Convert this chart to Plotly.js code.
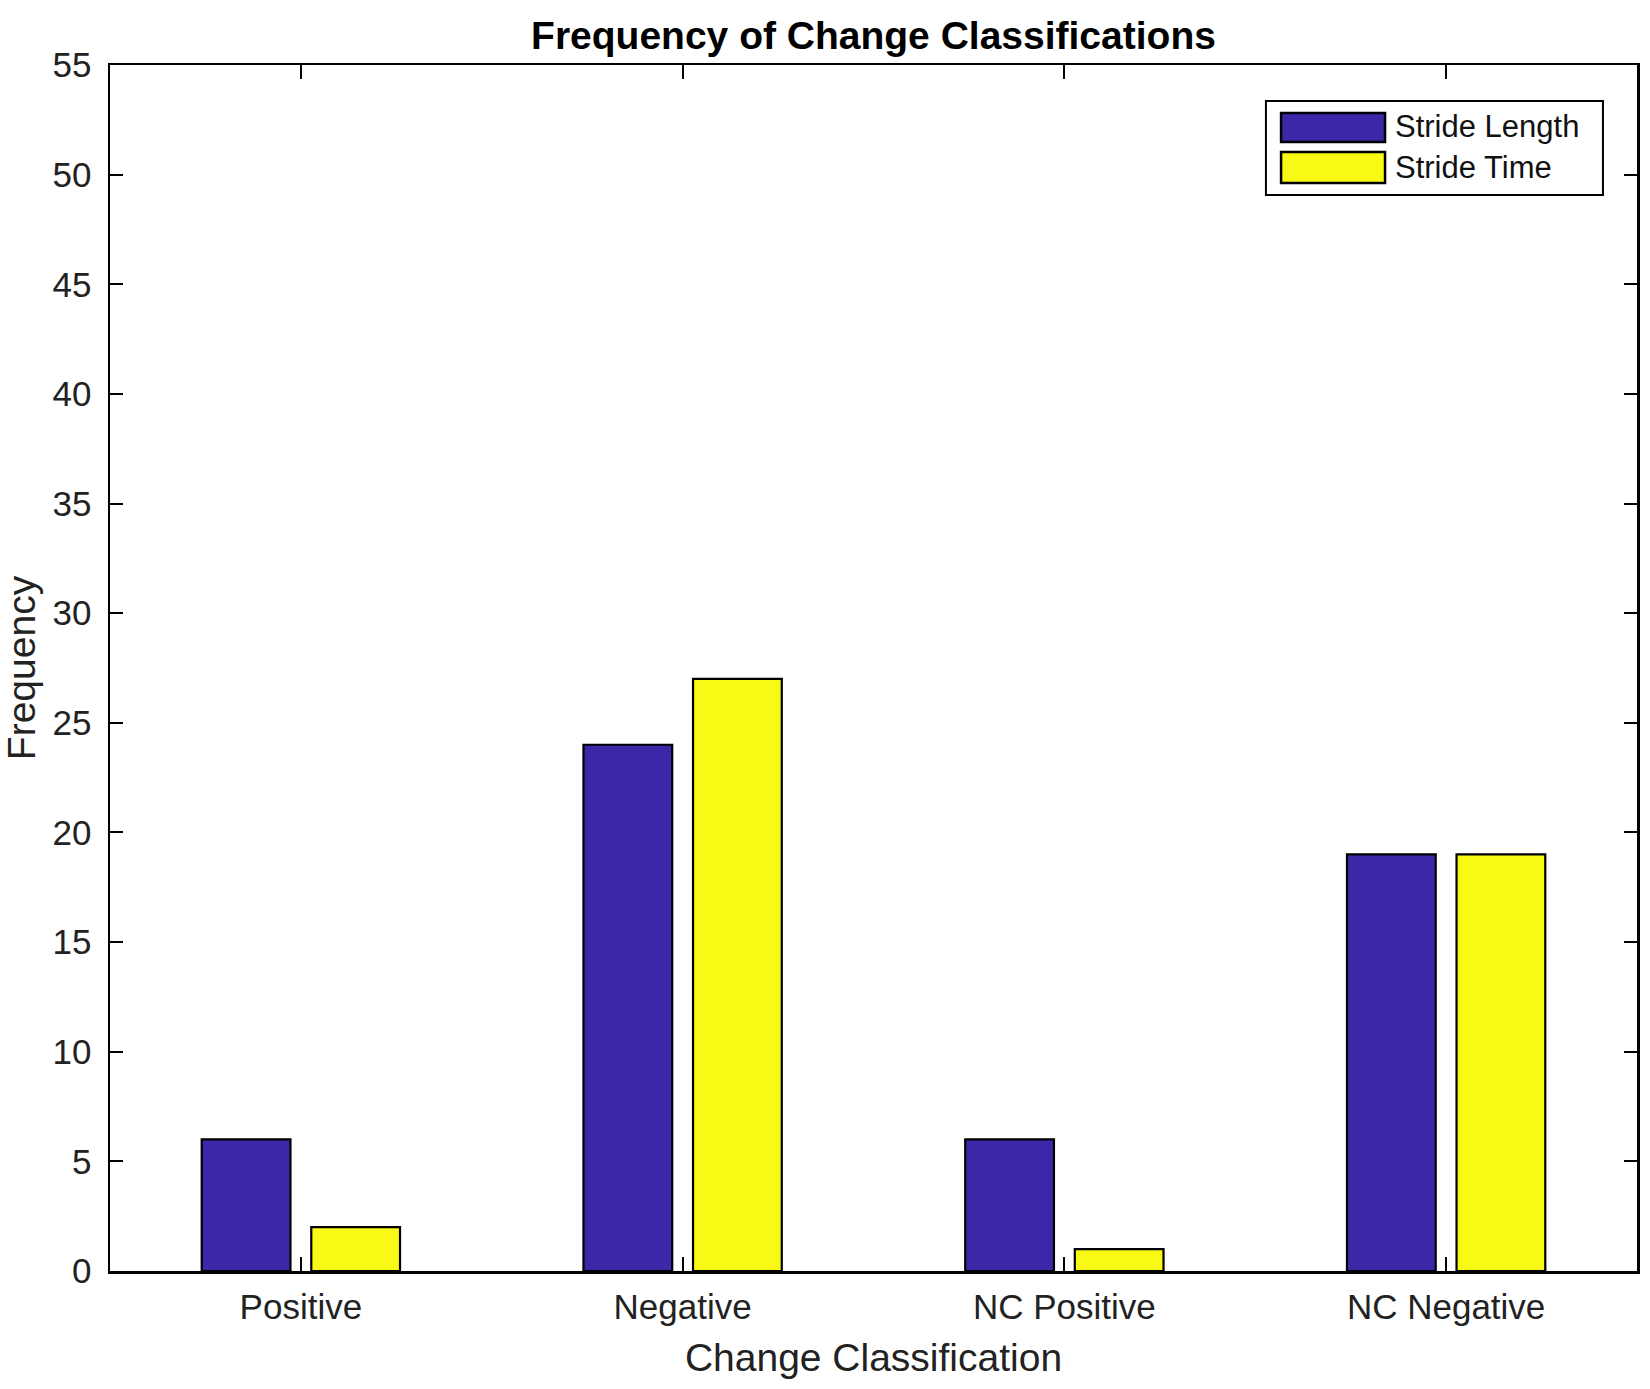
<!DOCTYPE html>
<html>
<head>
<meta charset="utf-8">
<script src="https://cdn.plot.ly/plotly-3.0.1.min.js"></script>
<style>html,body{margin:0;padding:0;background:#fff;}#chart{width:1650px;height:1389px;}</style>
</head>
<body>
<div id="chart"></div>
<script>
const categories = ["Positive", "Negative", "NC Positive", "NC Negative"];
const seriesNames = ["Stride Length", "Stride Time"];
const strideLength = [6, 24, 6, 19];
const strideTime = [2, 27, 1, 19];
const seriesColors = ["#3d27a8", "#f8f914"];
const yTickVals = [0, 5, 10, 15, 20, 25, 30, 35, 40, 45, 50, 55];

const FONT = "'Liberation Sans', Arial, Helvetica, sans-serif";

const traces = [
  {type: "bar", name: seriesNames[0], x: categories, y: strideLength,
   marker: {color: seriesColors[0], line: {color: "#000", width: 2.2}}, showlegend: false},
  {type: "bar", name: seriesNames[1], x: categories, y: strideTime,
   marker: {color: seriesColors[1], line: {color: "#000", width: 2.2}}, showlegend: false}
];

// Legend drawn as plot-area-referenced shapes and annotations (MATLAB-style boxed legend)
const shapes = [
  {type: "rect", xref: "paper", yref: "paper", x0: 0.757, x1: 0.9777, y0: 0.8922, y1: 0.9701,
   line: {color: "#000", width: 2}, fillcolor: "#fff"},
  {type: "rect", xref: "paper", yref: "paper", x0: 0.7669, x1: 0.835, y0: 0.9362, y1: 0.9602,
   line: {color: "#000", width: 2.5}, fillcolor: seriesColors[0]},
  {type: "rect", xref: "paper", yref: "paper", x0: 0.7669, x1: 0.835, y0: 0.9022, y1: 0.9279,
   line: {color: "#000", width: 2.5}, fillcolor: seriesColors[1]}
];
const annotations = [
  {xref: "paper", yref: "paper", x: 0.8422, y: 0.9486, xanchor: "left", yanchor: "middle", showarrow: false,
   xshift: -3, text: seriesNames[0], font: {family: FONT, size: 31, color: "#111"}},
  {xref: "paper", yref: "paper", x: 0.8422, y: 0.9154, xanchor: "left", yanchor: "middle", showarrow: false,
   xshift: -3, text: seriesNames[1], font: {family: FONT, size: 31, color: "#111"}}
];

const layout = {
  width: 1650, height: 1389,
  margin: {l: 110, r: 13, t: 65, b: 118},
  paper_bgcolor: "#fff", plot_bgcolor: "#fff",
  font: {family: FONT, color: "#111"},
  title: {text: "Frequency of Change Classifications", font: {family: FONT, size: 39, color: "#000", weight: "bold"},
          x: 0.5, xanchor: "center", xref: "paper", y: 0.9748, yanchor: "middle", yref: "container"},
  barmode: "group", bargap: 0.426, bargroupgap: 0.19,
  xaxis: {
    type: "category", range: [-0.5, 3.5], categoryorder: "array", categoryarray: categories,
    showline: true, linecolor: "#000", linewidth: 2.5, mirror: "allticks",
    ticks: "inside", ticklen: 14, tickwidth: 2, tickcolor: "#000",
    tickfont: {family: FONT, size: 35, color: "#222"}, ticklabelstandoff: 3,
    showgrid: false, zeroline: false,
    title: {text: "Change Classification", font: {family: FONT, size: 39, color: "#222"}, standoff: 19}
  },
  yaxis: {
    range: [0, 55], tickvals: yTickVals, ticktext: yTickVals.map(String),
    showline: true, linecolor: "#000", linewidth: 2.5, mirror: "allticks",
    ticks: "inside", ticklen: 13, tickwidth: 2, tickcolor: "#000",
    tickfont: {family: FONT, size: 35, color: "#222"}, ticklabelstandoff: 9,
    showgrid: false, zeroline: false,
    title: {text: "Frequency", font: {family: FONT, size: 39, color: "#222"}, standoff: 14}
  },
  shapes: shapes,
  annotations: annotations,
  showlegend: false
};

Plotly.newPlot("chart", traces, layout, {displayModeBar: false, staticPlot: true});
</script>
</body>
</html>
